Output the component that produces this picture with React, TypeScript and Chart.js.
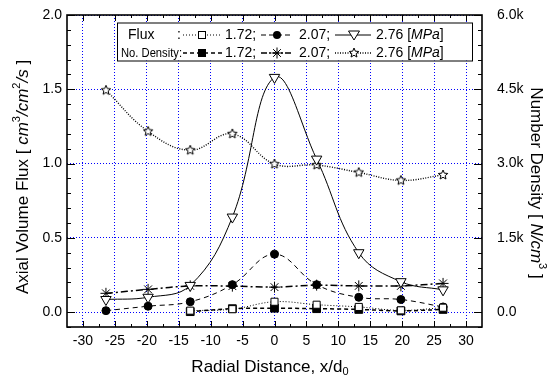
import { useEffect, useRef } from 'react';
import { Chart, registerables } from 'chart.js';
Chart.register(...registerables);

const xPositions = [-26.4, -19.8, -13.2, -6.6, 0, 6.6, 13.2, 19.8, 26.4];
const flux172 = [null, null, 0.01, 0.02, 0.07, 0.05, 0.035, 0.012, 0.03];
const flux207 = [0.01, 0.04, 0.07, 0.185, 0.39, 0.185, 0.1, 0.085, 0.035];
const flux276 = [0.085, 0.1, 0.18, 0.64, 1.58, 1.03, 0.4, 0.205, 0.15];
const nd172 = [null, null, 10, 70, 80, 70, 55, 25, 55];
const nd207 = [380, 460, 530, 525, 505, 545, 530, 530, 580];
const nd276 = [4480, 3650, 3270, 3600, 2990, 2970, 2820, 2660, 2770];
const xTicks = [-30, -25, -20, -15, -10, -5, 0, 5, 10, 15, 20, 25, 30];
const leftTicks = [0, 0.5, 1.0, 1.5, 2.0];
const rightTicks = [0, 1500, 3000, 4500, 6000];

const FONT = '"Liberation Sans", Arial, sans-serif';

type Seg = { t: string; it?: boolean; sup?: boolean; sub?: boolean };

function setFont(ctx: CanvasRenderingContext2D, s: Seg, size: number) {
  const sz = s.sup || s.sub ? Math.round(size * 0.62) : size;
  ctx.font = `${s.it ? 'italic ' : ''}${sz}px ${FONT}`;
}
function segsWidth(ctx: CanvasRenderingContext2D, segs: Seg[], size: number) {
  let w = 0;
  for (const s of segs) { setFont(ctx, s, size); w += ctx.measureText(s.t).width; }
  return w;
}
function drawSegs(ctx: CanvasRenderingContext2D, segs: Seg[], x: number, y: number, size: number, align: 'left' | 'center' | 'right') {
  const w = segsWidth(ctx, segs, size);
  let cx = align === 'left' ? x : align === 'center' ? x - w / 2 : x - w;
  ctx.textAlign = 'left';
  ctx.textBaseline = 'middle';
  ctx.fillStyle = '#000';
  for (const s of segs) {
    setFont(ctx, s, size);
    const dy = s.sup ? -size * 0.38 : s.sub ? size * 0.32 : 0;
    ctx.fillText(s.t, cx, y + dy);
    cx += ctx.measureText(s.t).width;
  }
}

function drawStar(ctx: CanvasRenderingContext2D, cx: number, cy: number, r: number) {
  ctx.beginPath();
  for (let i = 0; i < 10; i++) {
    const a = -Math.PI / 2 + (i * Math.PI) / 5;
    const rr = i % 2 === 0 ? r : r * 0.45;
    ctx.lineTo(cx + rr * Math.cos(a), cy + rr * Math.sin(a));
  }
  ctx.closePath();
  ctx.fillStyle = '#fff';
  ctx.fill();
  ctx.strokeStyle = '#000';
  ctx.lineWidth = 1;
  ctx.setLineDash([]);
  ctx.stroke();
}
function makeStarCanvas(r: number) {
  const size = Math.ceil(r * 2 + 4);
  const c = document.createElement('canvas');
  c.width = size; c.height = size;
  const ctx = c.getContext('2d')!;
  drawStar(ctx, size / 2, size / 2, r);
  return c;
}

function marker(ctx: CanvasRenderingContext2D, kind: string, x: number, y: number) {
  ctx.save();
  ctx.setLineDash([]);
  ctx.lineWidth = 1;
  ctx.strokeStyle = '#000';
  ctx.fillStyle = '#000';
  if (kind === 'osq') { ctx.fillStyle = '#fff'; ctx.fillRect(x - 3.5, y - 3.5, 7, 7); ctx.strokeRect(x - 3.5, y - 3.5, 7, 7); }
  else if (kind === 'fsq') { ctx.fillRect(x - 4, y - 4, 8, 8); }
  else if (kind === 'fci') { ctx.beginPath(); ctx.arc(x, y, 4, 0, Math.PI * 2); ctx.fill(); }
  else if (kind === 'tri') {
    ctx.beginPath(); ctx.moveTo(x - 5.5, y - 4); ctx.lineTo(x + 5.5, y - 4); ctx.lineTo(x, y + 5); ctx.closePath();
    ctx.fillStyle = '#fff'; ctx.fill(); ctx.stroke();
  } else if (kind === 'ast') {
    ctx.beginPath();
    for (let i = 0; i < 4; i++) {
      const a = (i * Math.PI) / 4;
      ctx.moveTo(x - 5.5 * Math.cos(a), y - 5.5 * Math.sin(a));
      ctx.lineTo(x + 5.5 * Math.cos(a), y + 5.5 * Math.sin(a));
    }
    ctx.stroke();
  } else if (kind === 'star') { drawStar(ctx, x, y, 5); }
  ctx.restore();
}

function seg(ctx: CanvasRenderingContext2D, x1: number, x2: number, y: number, dash: number[], lw: number) {
  ctx.save();
  ctx.beginPath();
  ctx.setLineDash(dash);
  ctx.lineWidth = lw;
  ctx.strokeStyle = '#000';
  ctx.moveTo(x1, y); ctx.lineTo(x2, y);
  ctx.stroke();
  ctx.restore();
}

const decorPlugin = {
  id: 'decor',
  afterDatasetsDraw(chart: any) {
    const { ctx, chartArea: a, scales } = chart;
    const xs = scales.x, ys = scales.y, y1 = scales.y1;
    ctx.save();
    ctx.strokeStyle = '#000';
    ctx.setLineDash([]);
    ctx.lineWidth = 1;
    ctx.beginPath();
    for (let v = -30; v <= 30.01; v += 2.5) {
      const px = Math.round(xs.getPixelForValue(v)) + 0.5;
      const major = Math.abs(v % 5) < 0.01;
      const L = major ? 6 : 3;
      ctx.moveTo(px, a.bottom); ctx.lineTo(px, a.bottom - L);
      ctx.moveTo(px, a.top); ctx.lineTo(px, a.top + L);
    }
    for (let i = -1; i <= 20; i++) {
      const v = i / 10;
      const py = Math.round(ys.getPixelForValue(v)) + 0.5;
      const L = i % 5 === 0 ? 8 : 4;
      ctx.moveTo(a.left, py); ctx.lineTo(a.left + L, py);
    }
    for (let i = -1; i <= 20; i++) {
      const v = i * 300;
      const py = Math.round(y1.getPixelForValue(v)) + 0.5;
      const L = i % 5 === 0 ? 8 : 4;
      ctx.moveTo(a.right, py); ctx.lineTo(a.right - L, py);
    }
    ctx.stroke();
    ctx.lineWidth = 1.6;
    ctx.strokeRect(a.left, a.top, a.right - a.left, a.bottom - a.top);
    ctx.restore();
  },
  afterDraw(chart: any) {
    const { ctx } = chart;
    ctx.save();
    const T = 17;
    ctx.save();
    ctx.translate(23, 177);
    ctx.rotate(-Math.PI / 2);
    drawSegs(ctx, [
      { t: 'Axial Volume Flux [ ' }, { t: 'cm', it: true }, { t: '3', sup: true }, { t: '/cm', it: true },
      { t: '2', sup: true }, { t: '/s', it: true }, { t: ' ]' },
    ], 0, 0, T, 'center');
    ctx.restore();
    ctx.save();
    ctx.translate(536, 183);
    ctx.rotate(Math.PI / 2);
    drawSegs(ctx, [
      { t: 'Number Density [ ' }, { t: 'N/cm', it: true }, { t: '3', sup: true }, { t: ' ]' },
    ], 0, 0, T, 'center');
    ctx.restore();
    drawSegs(ctx, [{ t: 'Radial Distance, x/d' }, { t: '0', sub: true }], 270, 367, T, 'center');

    const bx = 117, by = 22.5, bw = 355, bh = 38;
    ctx.fillStyle = '#fff';
    ctx.fillRect(bx, by, bw, bh);
    ctx.lineWidth = 1;
    ctx.strokeStyle = '#000';
    ctx.setLineDash([]);
    ctx.strokeRect(bx + 0.5, by + 0.5, bw, bh);
    const r1 = 35, r2 = 53, F = 14;
    drawSegs(ctx, [{ t: 'Flux' }], 128, r1, F, 'left');
    drawSegs(ctx, [{ t: ':' }], 181, r1, F, 'right');
    ctx.font = `13px ${FONT}`;
    ctx.textAlign = 'left';
    ctx.textBaseline = 'middle';
    ctx.fillStyle = '#000';
    ctx.fillText('No. Density:', 121, r2, 61);
    seg(ctx, 183, 222, r1, [1, 2], 1); marker(ctx, 'osq', 202, r1);
    drawSegs(ctx, [{ t: '1.72;' }], 225, r1, F, 'left');
    seg(ctx, 261, 293, r1, [5, 3], 1); marker(ctx, 'fci', 277, r1);
    drawSegs(ctx, [{ t: '2.07;' }], 299, r1, F, 'left');
    seg(ctx, 335, 371, r1, [], 1); marker(ctx, 'tri', 354, r1);
    drawSegs(ctx, [{ t: '2.76 [' }, { t: 'MPa', it: true }, { t: ']' }], 376, r1, F, 'left');
    seg(ctx, 183, 222, r2, [4, 3], 1.5); marker(ctx, 'fsq', 202, r2);
    drawSegs(ctx, [{ t: '1.72;' }], 225, r2, F, 'left');
    seg(ctx, 261, 293, r2, [6, 2, 2, 2], 1.5); marker(ctx, 'ast', 277, r2);
    drawSegs(ctx, [{ t: '2.07;' }], 299, r2, F, 'left');
    seg(ctx, 335, 371, r2, [1, 1.5], 1.3); marker(ctx, 'star', 354, r2);
    drawSegs(ctx, [{ t: '2.76 [' }, { t: 'MPa', it: true }, { t: ']' }], 376, r2, F, 'left');
    ctx.restore();
  },
};

const mk = (d: (number | null)[]) => xPositions.map((x, i) => ({ x, y: d[i] }));
const tickFont = { family: FONT, size: 14 };
const zeroPad = (s: any) => { s.paddingTop = 0; s.paddingBottom = 0; s.paddingLeft = 0; s.paddingRight = 0; };

export default function App() {
  const ref = useRef<HTMLCanvasElement>(null);
  useEffect(() => {
    const starImg = makeStarCanvas(5);
    const common = { pointBorderColor: '#000', borderColor: '#000', pointBorderWidth: 1, pointHoverRadius: 0 };
    const chart = new Chart(ref.current!, {
      type: 'line',
      data: {
        datasets: [
          { ...common, label: 'Flux 1.72', data: mk(flux172), yAxisID: 'y', borderWidth: 1, borderDash: [1, 2], tension: 0.4,
            pointStyle: 'rect', pointRadius: 5, pointBackgroundColor: '#fff' },
          { ...common, label: 'Flux 2.07', data: mk(flux207), yAxisID: 'y', borderWidth: 1, borderDash: [5, 4], tension: 0.4,
            pointStyle: 'circle', pointRadius: 4, pointBackgroundColor: '#000' },
          { ...common, label: 'Flux 2.76', data: mk(flux276), yAxisID: 'y', borderWidth: 1, tension: 0.4,
            pointStyle: 'triangle', pointRotation: 180, pointRadius: 6, pointBackgroundColor: '#fff' },
          { ...common, label: 'ND 1.72', data: mk(nd172), yAxisID: 'y1', borderWidth: 1.5, borderDash: [4, 3], tension: 0.3,
            pointStyle: 'rect', pointRadius: 5.5, pointBackgroundColor: '#000' },
          { ...common, label: 'ND 2.07', data: mk(nd207), yAxisID: 'y1', borderWidth: 1.5, borderDash: [7, 3, 2, 3], tension: 0.3,
            pointStyle: 'star', pointRadius: 5.5, pointBackgroundColor: '#000' },
          { ...common, label: 'ND 2.76', data: mk(nd276), yAxisID: 'y1', borderWidth: 1.4, borderDash: [1, 1.5], tension: 0.4,
            pointStyle: starImg as any, pointRadius: 5 },
        ],
      },
      options: {
        animation: false,
        responsive: true,
        maintainAspectRatio: false,
        events: [],
        layout: { padding: { top: 15, left: 0, right: 0, bottom: 0 } },
        plugins: { legend: { display: false }, tooltip: { enabled: false } },
        scales: {
          x: {
            type: 'linear', min: -32.5, max: 32.5,
            afterBuildTicks: (s: any) => { s.ticks = xTicks.map((v) => ({ value: v })); },
            afterFit: (s: any) => { s.height = 53; zeroPad(s); },
            grid: { color: '#0000ff', lineWidth: 1, drawTicks: false },
            border: { display: false, dash: [1, 2] },
            ticks: { font: tickFont, color: '#000', padding: 6, maxRotation: 0, autoSkip: false, callback: (v: any) => String(v) },
          },
          y: {
            type: 'linear', position: 'left', min: -0.1, max: 2.0,
            afterBuildTicks: (s: any) => { s.ticks = leftTicks.map((v) => ({ value: v })); },
            afterFit: (s: any) => { s.width = 67; zeroPad(s); },
            grid: { color: '#0000ff', lineWidth: 1, drawTicks: false },
            border: { display: false, dash: [1, 2] },
            ticks: { font: tickFont, color: '#000', padding: 5, callback: (v: any) => Number(v).toFixed(1) },
          },
          y1: {
            type: 'linear', position: 'right', min: -300, max: 6000,
            afterBuildTicks: (s: any) => { s.ticks = rightTicks.map((v) => ({ value: v })); },
            afterFit: (s: any) => { s.width = 72; zeroPad(s); },
            grid: { display: false, drawTicks: false },
            border: { display: false },
            ticks: { font: tickFont, color: '#000', padding: 15,
              callback: (v: any) => (Number(v) === 0 ? '0.0' : (Number(v) / 1000).toFixed(1) + 'k') },
          },
        },
      },
      plugins: [decorPlugin],
    } as any);
    return () => chart.destroy();
  }, []);
  return (
    <div style={{ position: 'absolute', left: 0, top: 0, width: 554, height: 380, background: '#fff' }}>
      <canvas ref={ref} />
    </div>
  );
}
